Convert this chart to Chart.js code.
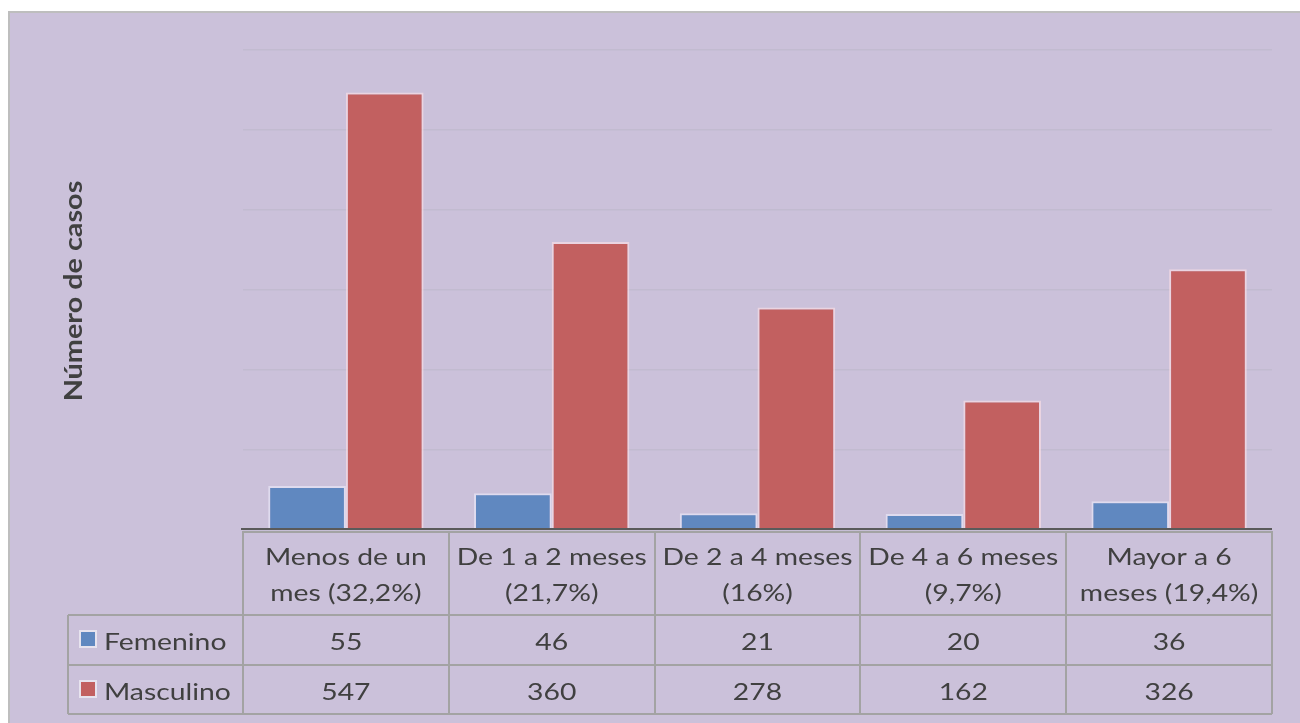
<!DOCTYPE html>
<html><head><meta charset="utf-8">
<script src="https://cdn.jsdelivr.net/npm/chart.js@4"></script>
<style>html,body{margin:0;padding:0;background:#fff;overflow:hidden}</style>
</head><body>
<canvas id="c" width="1300" height="723" style="width:1300px;height:723px;display:block"></canvas>
<script>
// ---- data ----
const categoryLines = [["Menos de un","mes (32,2%)"],["De 1 a 2 meses","(21,7%)"],["De 2 a 4 meses","(16%)"],["De 4 a 6 meses","(9,7%)"],["Mayor a 6","meses (19,4%)"]];
const categories = categoryLines.map(l => l.join(" "));
const femenino = [55, 46, 21, 20, 36];
const masculino = [547, 360, 278, 162, 326];
const seriesNames = ["Femenino", "Masculino"];
const yMax = 600;
const yStep = 100;
const yTitle = "Número de casos";

const FONT = "Lato, 'Open Sans', sans-serif";
const BLUE = "#6088C0";
const RED = "#C26060";
const TEXT = "#404040";
const LINE = "#A3A3A3";
const STRETCH = 1.18;

function wideText(ctx, text, px, py, align, sx) {
  ctx.save();
  ctx.translate(px, py);
  ctx.scale(sx, 1);
  ctx.textAlign = align;
  ctx.fillText(text, 0, 0);
  ctx.restore();
}

const tablePlugin = {
  id: 'tablePlugin',
  beforeDraw(chart) {
    const ctx = chart.ctx;
    ctx.save();
    ctx.fillStyle = '#ffffff';
    ctx.fillRect(0, 0, chart.width, chart.height);
    ctx.fillStyle = '#CBC1DA';
    ctx.fillRect(9, 12, chart.width - 9, chart.height - 12);
    ctx.strokeStyle = '#BEBEBE';
    ctx.lineWidth = 2;
    ctx.beginPath();
    ctx.moveTo(9, chart.height); ctx.lineTo(9, 12); ctx.lineTo(chart.width, 12);
    ctx.stroke();
    ctx.restore();
  },
  afterDraw(chart) {
    const ctx = chart.ctx;
    const x = chart.scales.x;
    const area = chart.chartArea;
    const n = categories.length;
    const w = (x.right - x.left) / n;
    const top = area.bottom + 1;
    const r1 = top + 84, r2 = r1 + 50, r3 = r2 + 49;
    const legLeft = 68;
    ctx.save();
    // table lines
    ctx.strokeStyle = LINE;
    ctx.lineWidth = 2;
    ctx.beginPath();
    for (let i = 0; i <= n; i++) {
      const px = Math.round(x.left + i * w);
      ctx.moveTo(px, top); ctx.lineTo(px, r3);
    }
    ctx.moveTo(legLeft, r1); ctx.lineTo(legLeft, r3);
    ctx.moveTo(x.left, top + 1); ctx.lineTo(x.right, top + 1);
    ctx.moveTo(legLeft, r1); ctx.lineTo(x.right, r1);
    ctx.moveTo(legLeft, r2); ctx.lineTo(x.right, r2);
    ctx.moveTo(legLeft, r3); ctx.lineTo(x.right, r3);
    ctx.stroke();
    // axis baseline
    ctx.strokeStyle = '#5A5A5A';
    ctx.lineWidth = 2;
    ctx.beginPath();
    ctx.moveTo(x.left - 2, area.bottom - 1); ctx.lineTo(x.right, area.bottom - 1);
    ctx.stroke();
    // header text
    ctx.fillStyle = TEXT;
    ctx.font = "24px " + FONT;
    ctx.textBaseline = 'alphabetic';
    categoryLines.forEach((lines, i) => {
      const cx = x.getPixelForValue(i);
      wideText(ctx, lines[0], cx, top + 34, 'center', STRETCH);
      wideText(ctx, lines[1], cx, top + 70, 'center', STRETCH);
    });
    // values
    const series = [femenino, masculino];
    const colors = [BLUE, RED];
    const rowBase = [r1 + 35, r2 + 35];
    series.forEach((vals, s) => {
      ctx.fillStyle = TEXT;
      vals.forEach((v, i) => {
        wideText(ctx, String(v), x.getPixelForValue(i), rowBase[s], 'center', STRETCH);
      });
      // legend key
      const ky = (s === 0 ? r1 : r2) + 16;
      ctx.fillStyle = 'rgba(255,255,255,0.55)';
      ctx.fillRect(79, ky - 1, 18, 18);
      ctx.fillStyle = colors[s];
      ctx.fillRect(81, ky + 1, 14, 14);
      ctx.fillStyle = TEXT;
      wideText(ctx, seriesNames[s], 104, rowBase[s], 'left', STRETCH);
    });
    // y title
    ctx.translate(82, (area.top + area.bottom) / 2 + 1);
    ctx.rotate(-Math.PI / 2);
    ctx.font = "bold 24px " + FONT;
    ctx.fillStyle = TEXT;
    wideText(ctx, yTitle, 0, 0, 'center', 1.2);
    ctx.restore();
  }
};

new Chart(document.getElementById('c'), {
  type: 'bar',
  data: {
    labels: categories,
    datasets: [
      { label: seriesNames[0], data: femenino, backgroundColor: BLUE, borderColor: 'rgba(240,240,255,0.55)', borderWidth: 2, categoryPercentage: 0.755, barPercentage: 1.0 },
      { label: seriesNames[1], data: masculino, backgroundColor: RED, borderColor: 'rgba(255,225,230,0.6)', borderWidth: 2, categoryPercentage: 0.755, barPercentage: 1.0 }
    ]
  },
  options: {
    responsive: false,
    animation: false,
    devicePixelRatio: 1,
    layout: { padding: { left: 243, right: 28, top: 50, bottom: 193 } },
    plugins: { legend: { display: false }, tooltip: { enabled: false }, title: { display: false } },
    scales: {
      x: {
        ticks: { display: false },
        grid: { display: false, drawTicks: false },
        border: { display: false }
      },
      y: {
        min: 0, max: yMax,
        ticks: { display: false, stepSize: yStep },
        grid: { color: '#C2BBD0', lineWidth: 1.5, drawTicks: false },
        border: { display: false }
      }
    }
  },
  plugins: [tablePlugin]
});
</script>
</body></html>
